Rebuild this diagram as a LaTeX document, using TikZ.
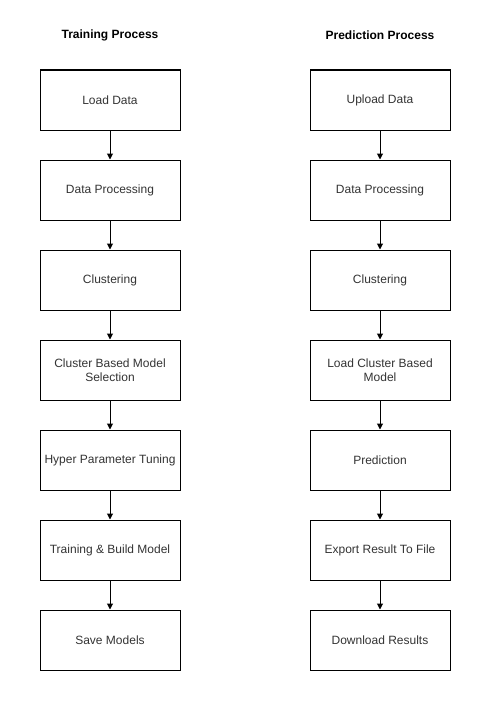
\documentclass[tikz,border=0pt]{standalone}
\usepackage{fontspec}
\setmainfont{Liberation Sans}
\usetikzlibrary{arrows.meta}
\definecolor{txt}{HTML}{333333}
\tikzset{
  stepbox/.style={draw=black, line width=1pt, minimum width=140pt, minimum height=60pt, align=center, font=\fontsize{12}{14}\selectfont, text=txt, inner sep=0pt},
  ttl/.style={font=\fontsize{12}{14}\selectfont\bfseries, text=black},
  conn/.style={draw=black, line width=1pt, -{Triangle[length=6pt,width=6pt]}}
}
\begin{document}
\begin{tikzpicture}[x=1pt,y=-1pt]
\useasboundingbox (0,0) rectangle (491,701);
\node[ttl] (tl) at (110,35) {Training Process};
\node[ttl] (tr) at (380,35) {Prediction Process};
\node[stepbox] (l1) at (110,100) {Load Data};
\node[stepbox] (l2) at (110,190) {Data Processing};
\node[stepbox] (l3) at (110,280) {Clustering};
\node[stepbox] (l4) at (110,370) {Cluster Based Model\\Selection};
\node[stepbox] (l5) at (110,460) {Hyper Parameter Tuning};
\node[stepbox] (l6) at (110,550) {Training \& Build Model};
\node[stepbox] (l7) at (110,640) {Save Models};
\node[stepbox] (r1) at (380,100) {Upload Data};
\node[stepbox] (r2) at (380,190) {Data Processing};
\node[stepbox] (r3) at (380,280) {Clustering};
\node[stepbox] (r4) at (380,370) {Load Cluster Based\\Model};
\node[stepbox] (r5) at (380,460) {Prediction};
\node[stepbox] (r6) at (380,550) {Export Result To File};
\node[stepbox] (r7) at (380,640) {Download Results};
\foreach \a/\b in {1/2,2/3,3/4,4/5,5/6,6/7}{
  \draw[conn] (l\a) -- (l\b);
  \draw[conn] (r\a) -- (r\b);
}
\end{tikzpicture}
\end{document}
